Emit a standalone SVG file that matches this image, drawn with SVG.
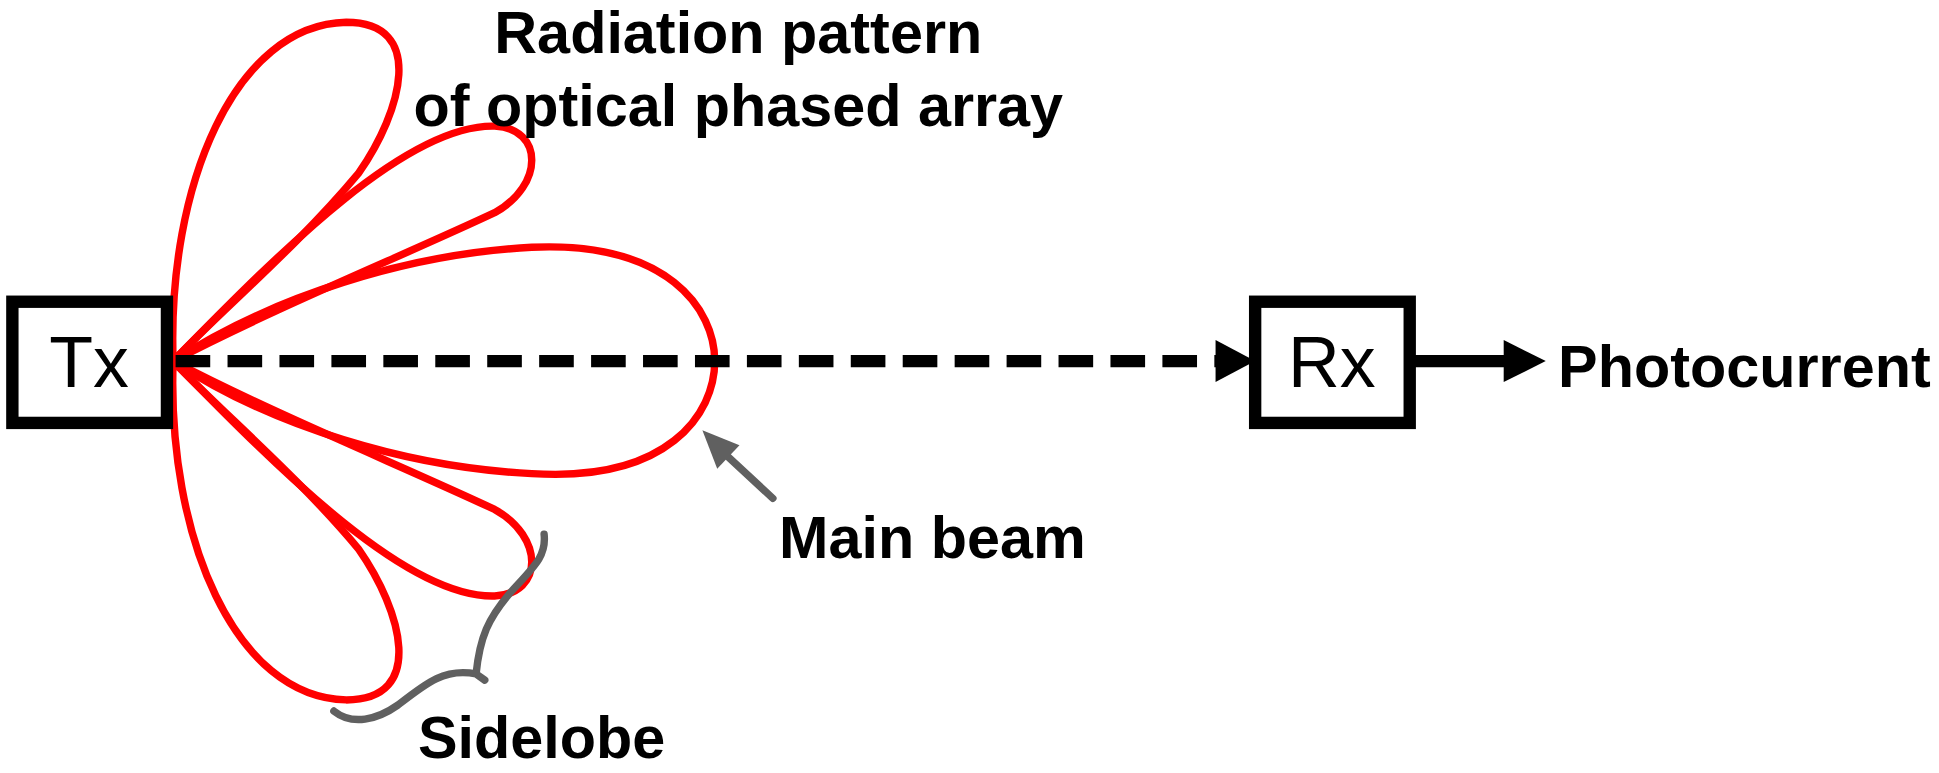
<svg xmlns="http://www.w3.org/2000/svg" width="1939" height="773" viewBox="0 0 1939 773">
<style>
.lobe{fill:none;stroke:#ff0000;stroke-width:6;stroke-linejoin:round}
.box{fill:#fff;stroke:#000;stroke-width:10}
.lbl{font-family:"Liberation Sans",Arial,sans-serif;font-weight:bold;font-size:48px;fill:#000}
.gray{fill:none;stroke:#606060;stroke-width:6;stroke-linecap:round}
</style>
<rect width="1939" height="773" fill="#fff"/>
<g transform="scale(1.2366)">
<g id="pattern">
<path class="lobe" d="M140,292 C220,240 330,205 430,200 C540,195 578,250 578,292 C578,335 540,390 430,383 C330,378 220,345 140,292 Z"/>
<path class="lobe" d="M140,292 C230,200 330,100 400,102 C440,104 440,150 400,172 C330,205 220,250 140,292 Z"/>
<path class="lobe" d="M140,292 C135,150 190,20 280,18 C345,18 325,90 290,140 C240,200 180,250 140,292 Z"/>
<g transform="translate(0,584) scale(1,-1)">
<path class="lobe" d="M140,292 C230,200 330,100 400,102 C440,104 440,150 400,172 C330,205 220,250 140,292 Z"/>
<path class="lobe" d="M140,292 C135,150 190,20 280,18 C345,18 325,90 290,140 C240,200 180,250 140,292 Z"/>
</g>
</g>
<g id="connectors">
<line x1="142" y1="292" x2="985" y2="292" stroke="#000" stroke-width="10" stroke-dasharray="28,14"/>
<path d="M983,275 L1015,292 L983,309 Z" fill="#000"/>
<line x1="1140" y1="292" x2="1220" y2="292" stroke="#000" stroke-width="10"/>
<path d="M1216,275 L1250,292 L1216,309 Z" fill="#000"/>
<line class="gray" x1="625" y1="403" x2="585" y2="366"/>
<path d="M568,348 L598,360 L580,379 Z" fill="#606060"/>
<path class="gray" d="M270,575 C285,587 305,582 322,570 C345,552 360,540 385,545 L392,550 M385,545 C388,515 395,500 412,480 C432,458 442,450 440,432"/>
</g>
<g id="tx"><rect class="box" x="10" y="244" width="125" height="98"/>
<text x="72" y="313" text-anchor="middle" font-family="Liberation Sans,Arial,sans-serif" font-size="58">Tx</text></g>
<g id="rx"><rect class="box" x="1015" y="244" width="125" height="98"/>
<text x="1077" y="313" text-anchor="middle" font-family="Liberation Sans,Arial,sans-serif" font-size="58">Rx</text></g>
<text class="lbl" x="1260" y="313">Photocurrent</text>
<text class="lbl" x="597" y="43" text-anchor="middle">Radiation pattern</text>
<text class="lbl" x="597" y="102" text-anchor="middle">of optical phased array</text>
<text class="lbl" x="630" y="451">Main beam</text>
<text class="lbl" x="338" y="613">Sidelobe</text>
</g>
</svg>
